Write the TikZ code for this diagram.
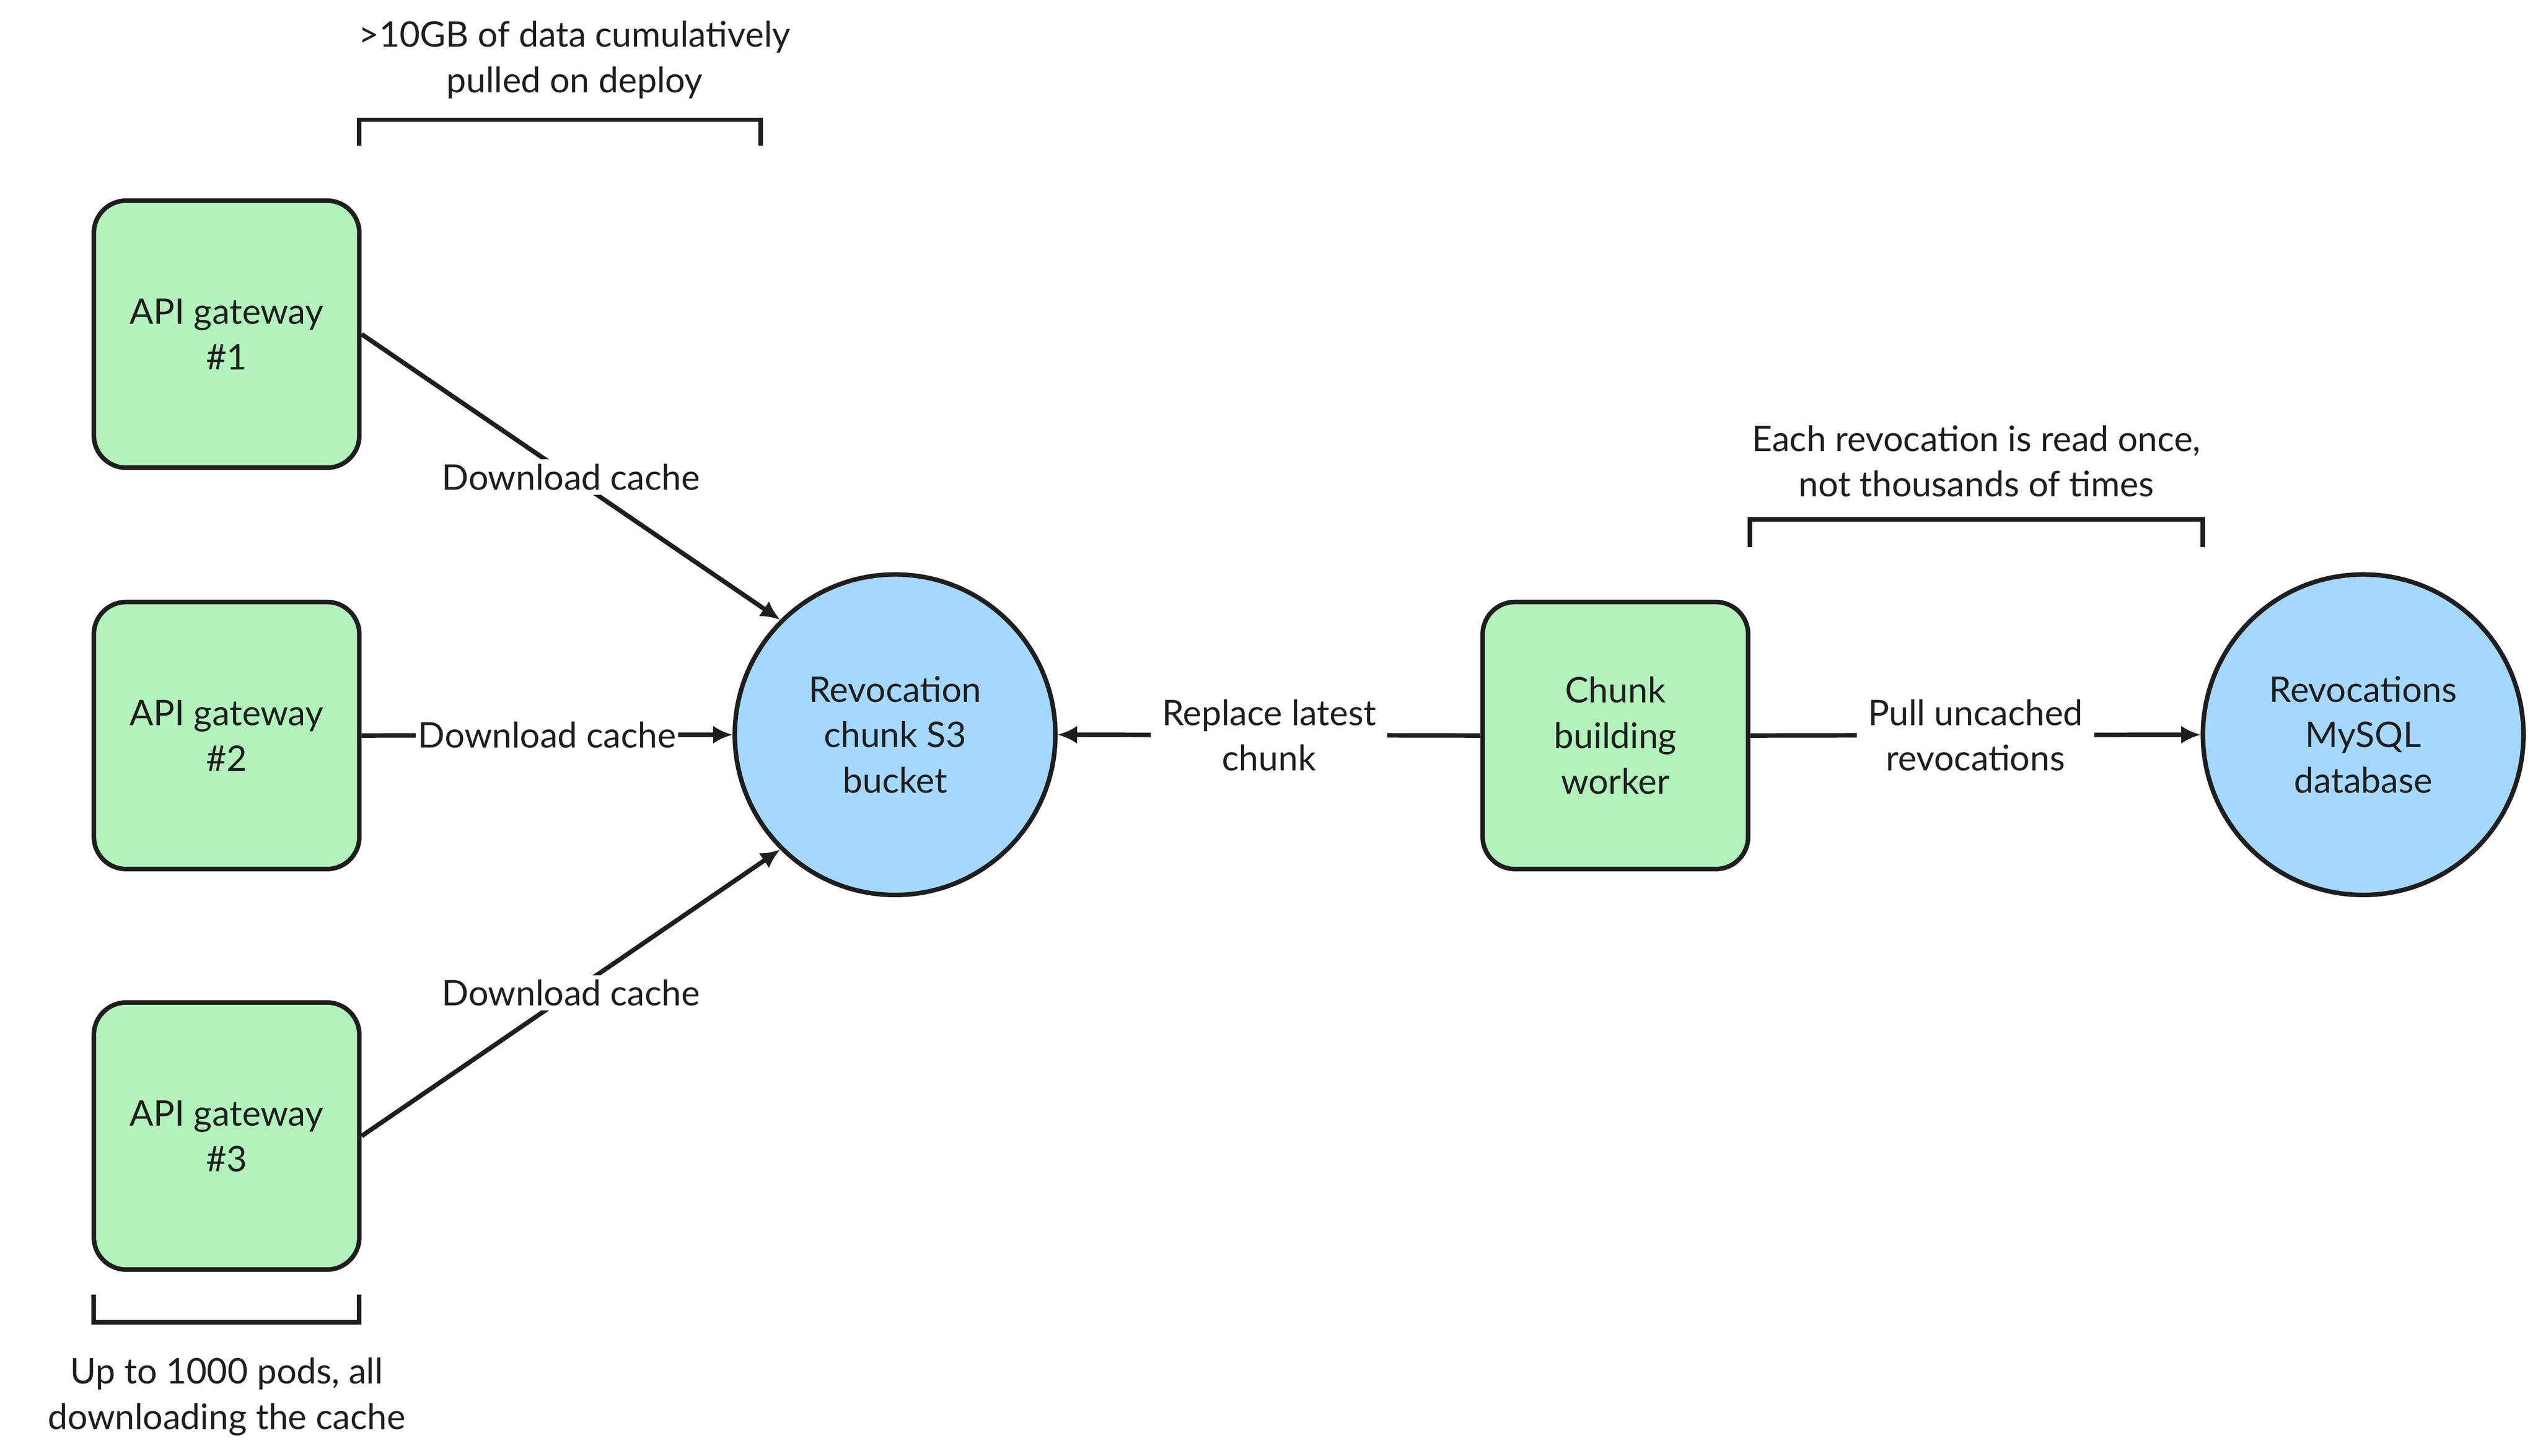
\documentclass[tikz,border=0pt]{standalone}
\usepackage{fontspec}
\setmainfont{Lato}
\usetikzlibrary{arrows.meta}
\definecolor{gfill}{HTML}{B2F2BB}
\definecolor{bfill}{HTML}{A5D8FF}
\definecolor{ink}{HTML}{1E1E1E}
\begin{document}
\begin{tikzpicture}[x=0.025cm,y=-0.025cm,
  every node/.style={font=\fontsize{15.5}{20}\selectfont, text=ink, align=center},
  box/.style={draw=ink, line width=2pt, fill=gfill, rounded corners=0.5cm, minimum width=4.1cm, minimum height=4.125cm, inner sep=0pt},
  circ/.style={draw=ink, line width=2pt, fill=bfill, circle, minimum size=4.95cm, inner sep=0pt},
  conn/.style={draw=ink, line width=2pt, -{Latex[length=0.3cm,width=0.28cm]}},
  lbl/.style={fill=white, inner sep=2pt},
  brk/.style={draw=ink, line width=2pt}]
\useasboundingbox (0,0) rectangle (1568,899.5);
\node[box] (g1) at (140,206.5) {API gateway\\\#1};
\node[box] (g2) at (140,454.5) {API gateway\\\#2};
\node[box] (g3) at (140,702) {API gateway\\\#3};
\node[circ] (s3) at (553,454) {Revocation\\chunk S3\\bucket};
\node[box] (w) at (998,454.5) {Chunk\\building\\worker};
\node[circ] (db) at (1460,454) {Revocations\\MySQL\\database};
\draw[conn] (g1.east) -- node[lbl] {Download cache} (s3.135);
\draw[conn] (g2.east) -- node[lbl,inner sep=1pt] {Download cache} (s3.west);
\draw[conn] (g3.east) -- node[lbl] {Download cache} (s3.225);
\draw[conn] (w.west) -- node[lbl,inner sep=5pt] {Replace latest\\chunk} (s3.east);
\draw[conn] (w.east) -- node[lbl,inner sep=5pt] {Pull uncached\\revocations} (db.west);
\coordinate (a1) at (222,90); \coordinate (a2) at (470,90);
\draw[brk] (a1) -- ++(0,-16) -| (a2);
\node (ta) at (355,37) {>10GB of data cumulatively\\pulled on deploy};
\coordinate (b1) at (1081,338); \coordinate (b2) at (1361,338);
\draw[brk] (b1) -- ++(0,-17) -| (b2);
\node (tb) at (1221,285) {Each revocation is read once,\\not thousands of times};
\coordinate (c1) at (58,800); \coordinate (c2) at (222,800);
\draw[brk] (c1) -- ++(0,17) -| (c2);
\node (tc) at (140,863) {Up to 1000 pods, all\\downloading the cache};
\end{tikzpicture}
\end{document}
